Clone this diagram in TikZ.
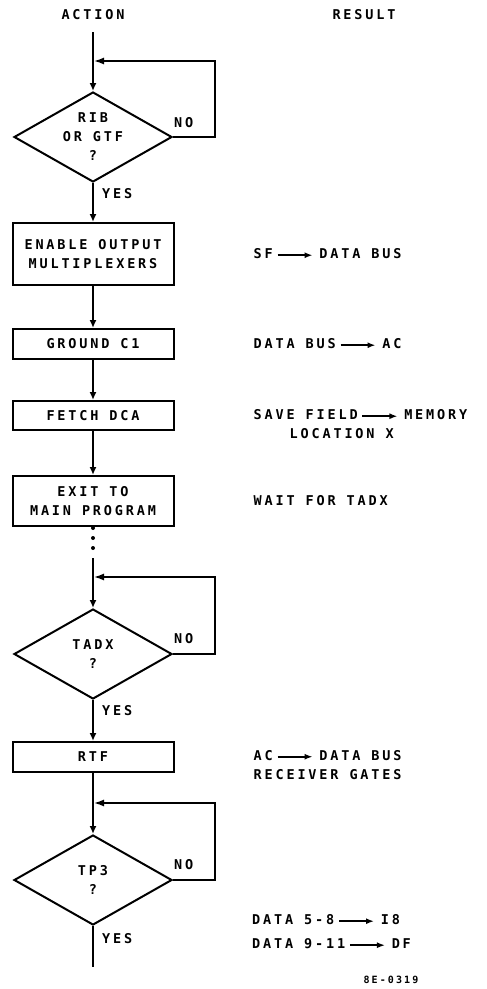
\documentclass[tikz,border=0pt]{standalone}
\usepackage{fontspec}
\setmainfont{DejaVu Sans Mono}[LetterSpace=21, UprightFont=* Bold, BoldFont=* Bold]
\usetikzlibrary{arrows.meta, positioning, shapes.geometric}

% long arrow used inside the result column
\newcommand{\yields}{\hspace{4pt}\tikz[baseline=-0.5ex]\draw[-{Latex[length=8pt,width=6pt]}, line width=1.6pt] (0,0) -- (35pt,0);\hspace{6pt}}

\begin{document}
\begin{tikzpicture}[
  x = 1pt, y = -1pt,
  node distance = 40pt,
  every node/.style = {font=\fontsize{13.5}{19}\selectfont},
  stepbox/.style = {
    draw, rectangle, line width=2pt,
    minimum width=161pt, minimum height=30pt, inner sep=2pt, align=center
  },
  decision/.style = {
    draw, diamond, line width=2pt, shape aspect=1.75,
    minimum width=158pt, minimum height=90pt, inner sep=0pt, align=center
  },
  result/.style = {inner sep=0pt, align=left},
  answer/.style = {inner sep=1pt},
  flow/.style = {-{Latex[length=8pt, width=7pt]}, line width=2pt},
  loopback/.style = {-{Latex[length=10pt, width=7pt]}, line width=1.5pt, shorten >=1pt}
]

\useasboundingbox (0,0) rectangle (487,989);

\node (action) at (93,15) {ACTION};
\node (result) at (364,15) {RESULT};

\coordinate (top) at (93,32);
\coordinate (join1) at (93,61);
\node[decision] (rib) at (93,137) {RIB \\ OR GTF \\ ?};
\node[stepbox, minimum height=62pt, below=39pt of rib] (enable) {ENABLE OUTPUT \\ MULTIPLEXERS};
\node[stepbox, below=42pt of enable] (ground) {GROUND C1};
\node[stepbox, minimum height=29pt, below=of ground] (fetch) {FETCH DCA};
\node[stepbox, minimum height=50pt, below=44pt of fetch] (exit) {EXIT TO \\ MAIN PROGRAM};

% program continues elsewhere
\foreach \y in {528,538,548}
  \fill (93,\y) circle (2pt);

\coordinate (resume) at (93,558);
\node[decision, below=81pt of exit] (tadx) {TADX \\ ?};
\coordinate (join2) at ([yshift=31pt]tadx.north);
\node[stepbox, below=41pt of tadx] (rtf) {RTF};
\node[decision, below=61pt of rtf] (tp) {TP3 \\ ?};
\coordinate (join3) at ([yshift=31pt]tp.north);
\coordinate (bottom) at ([yshift=-41pt]tp.south);

\draw[flow] (top) -- (rib.north);
\draw[flow] (rib.south) -- (enable.north);
\draw[flow] (enable) -- (ground);
\draw[flow] (ground) -- (fetch);
\draw[flow] (fetch) -- (exit);
\draw[flow] (resume) -- (tadx.north);
\draw[flow] (tadx.south) -- (rtf.north);
\draw[flow] (rtf.south) -- (tp.north);
\draw[line width=1.5pt] (tp.south) -- (bottom);

% wait loops
\draw[loopback] (rib.east) -- ++(42,0) |- (join1);
\draw[loopback] (tadx.east) -- ++(42,0) |- (join2);
\draw[loopback] (tp.east) -- ++(42,0) |- (join3);

\node[answer, anchor=south west, yshift=8pt] at (rib.east) {NO};
\node[answer, anchor=south west, yshift=9pt] at (tadx.east) {NO};
\node[answer, anchor=south west, yshift=9pt] at (tp.east) {NO};
\node[answer, anchor=north west, xshift=8pt, yshift=-4pt] at (rib.south) {YES};
\node[answer, anchor=north west, xshift=8pt, yshift=-4pt] at (tadx.south) {YES};
\node[answer, anchor=north west, xshift=8pt, yshift=-6pt] at (tp.south) {YES};

\node[result, right=79pt of enable.east, anchor=west] {SF\yields DATA BUS};
\node[result, right=79pt of ground.east, anchor=west] {DATA BUS\yields AC};
\node[result, right=79pt of fetch.east, anchor=west, yshift=-9pt]
  {SAVE FIELD\yields MEMORY \\ \hspace*{36pt}LOCATION X};
\node[result, right=79pt of exit.east, anchor=west] {WAIT FOR TADX};
\node[result, right=79pt of rtf.east, anchor=west, yshift=-8pt]
  {AC\yields DATA BUS \\ RECEIVER GATES};
\node[result, anchor=west] at (252,932)
  {DATA 5-8\yields I8 \\[5pt] DATA 9-11\yields DF};

\node[font=\fontsize{10}{12}\selectfont] (code) at (391,980) {8E-0319};

\end{tikzpicture}
\end{document}
